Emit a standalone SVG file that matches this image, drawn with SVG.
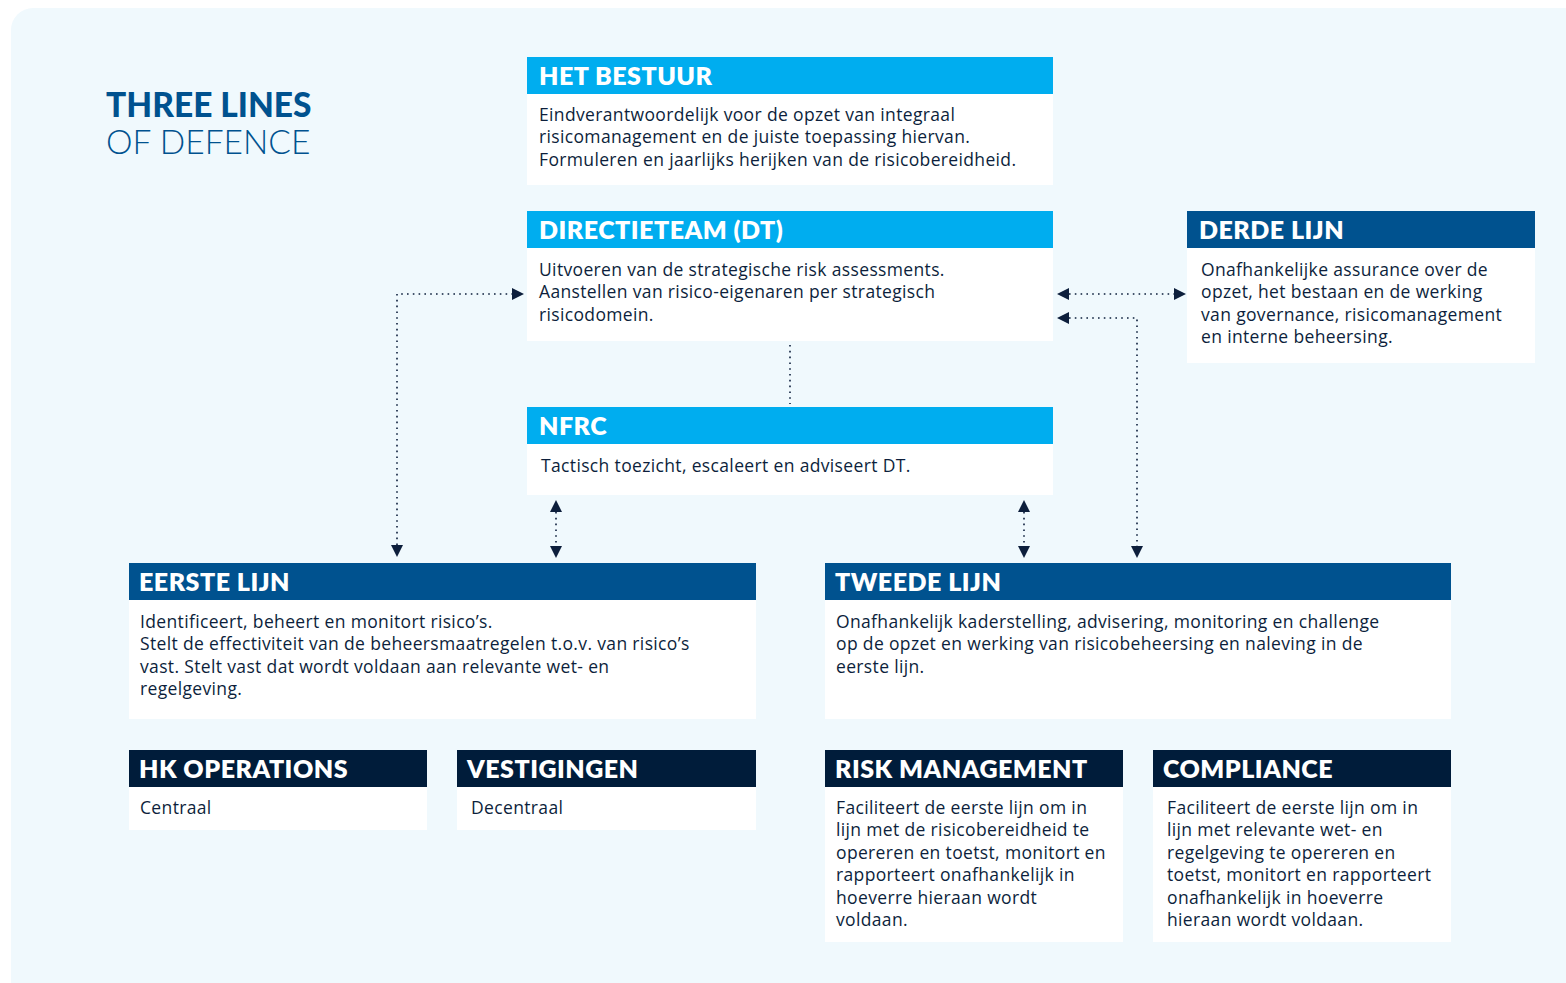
<svg xmlns="http://www.w3.org/2000/svg" width="1566" height="983" viewBox="0 0 1566 983">
<defs>
<style>
.bg{fill:#f0f9fd}
.body{fill:#ffffff}
.hc{fill:#00adef}
.hb{fill:#00528f}
.hn{fill:#001c3a}
.ht{font-family:Lato,"Noto Sans",sans-serif;font-weight:800;font-size:25px;fill:#ffffff;letter-spacing:0.5px}
.bt{font-family:"Open Sans","Noto Sans",sans-serif;font-size:17.5px;letter-spacing:0.35px;fill:#0d1f3c}
.conn{fill:none;stroke:#0d1f3c;stroke-width:1.6;stroke-dasharray:1.6 4.2}
.ttl{font-family:Lato,"Noto Sans",sans-serif;fill:#00528f;font-size:33.5px}
</style>
<marker id="ar" viewBox="0 0 10 10" refX="0" refY="5" markerWidth="12" markerHeight="12" markerUnits="userSpaceOnUse" orient="auto-start-reverse">
<path d="M0,0 L10,5 L0,10 Z" fill="#0d1f3c"/>
</marker>
</defs>
<rect class="bg" x="11" y="8" width="1575" height="995" rx="22"/>
<g id="title">
<text class="ttl" x="106" y="117" font-weight="900">THREE LINES</text>
<text class="ttl" x="106" y="154" font-weight="300">OF DEFENCE</text>
</g>
<g id="connectors">
<path class="conn" d="M397,545 V294 H512" marker-start="url(#ar)" marker-end="url(#ar)"/>
<path class="conn" d="M556,512 V546" marker-start="url(#ar)" marker-end="url(#ar)"/>
<path class="conn" d="M1024,512 V546" marker-start="url(#ar)" marker-end="url(#ar)"/>
<path class="conn" d="M1069,294 H1174" marker-start="url(#ar)" marker-end="url(#ar)"/>
<path class="conn" d="M1069,318 H1137 V546" marker-start="url(#ar)" marker-end="url(#ar)"/>
<path class="conn" d="M790,345 V404"/>
</g>
<g id="het-bestuur">
<rect class="body" x="527" y="57" width="526" height="128"/>
<rect class="hc" x="527" y="57" width="526" height="37"/>
<text class="ht" x="539" y="85">HET BESTUUR</text>
<text class="bt" x="539" y="121">Eindverantwoordelijk voor de opzet van integraal</text>
<text class="bt" x="539" y="143">risicomanagement en de juiste toepassing hiervan.</text>
<text class="bt" x="539" y="166">Formuleren en jaarlijks herijken van de risicobereidheid.</text>
</g>
<g id="directieteam">
<rect class="body" x="527" y="211" width="526" height="130"/>
<rect class="hc" x="527" y="211" width="526" height="37"/>
<text class="ht" x="539" y="239">DIRECTIETEAM (DT)</text>
<text class="bt" x="539" y="276">Uitvoeren van de strategische risk assessments.</text>
<text class="bt" x="539" y="298">Aanstellen van risico-eigenaren per strategisch</text>
<text class="bt" x="539" y="321">risicodomein.</text>
</g>
<g id="nfrc">
<rect class="body" x="527" y="407" width="526" height="88"/>
<rect class="hc" x="527" y="407" width="526" height="37"/>
<text class="ht" x="539" y="435">NFRC</text>
<text class="bt" x="541" y="472">Tactisch toezicht, escaleert en adviseert DT.</text>
</g>
<g id="derde-lijn">
<rect class="body" x="1187" y="211" width="348" height="152"/>
<rect class="hb" x="1187" y="211" width="348" height="37"/>
<text class="ht" x="1199" y="239">DERDE LIJN</text>
<text class="bt" x="1201" y="276">Onafhankelijke assurance over de</text>
<text class="bt" x="1201" y="298">opzet, het bestaan en de werking</text>
<text class="bt" x="1201" y="321">van governance, risicomanagement</text>
<text class="bt" x="1201" y="343">en interne beheersing.</text>
</g>
<g id="eerste-lijn">
<rect class="body" x="129" y="563" width="627" height="156"/>
<rect class="hb" x="129" y="563" width="627" height="37"/>
<text class="ht" x="139" y="591">EERSTE LIJN</text>
<text class="bt" x="140" y="628">Identificeert, beheert en monitort risico’s.</text>
<text class="bt" x="140" y="650">Stelt de effectiviteit van de beheersmaatregelen t.o.v. van risico’s</text>
<text class="bt" x="140" y="673">vast. Stelt vast dat wordt voldaan aan relevante wet- en</text>
<text class="bt" x="140" y="695">regelgeving.</text>
</g>
<g id="tweede-lijn">
<rect class="body" x="825" y="563" width="626" height="156"/>
<rect class="hb" x="825" y="563" width="626" height="37"/>
<text class="ht" x="835" y="591">TWEEDE LIJN</text>
<text class="bt" x="836" y="628">Onafhankelijk kaderstelling, advisering, monitoring en challenge</text>
<text class="bt" x="836" y="650">op de opzet en werking van risicobeheersing en naleving in de</text>
<text class="bt" x="836" y="673">eerste lijn.</text>
</g>
<g id="hk-operations">
<rect class="body" x="129" y="750" width="298" height="80"/>
<rect class="hn" x="129" y="750" width="298" height="37"/>
<text class="ht" x="139" y="778">HK OPERATIONS</text>
<text class="bt" x="140" y="814">Centraal</text>
</g>
<g id="vestigingen">
<rect class="body" x="457" y="750" width="299" height="80"/>
<rect class="hn" x="457" y="750" width="299" height="37"/>
<text class="ht" x="467" y="778">VESTIGINGEN</text>
<text class="bt" x="471" y="814">Decentraal</text>
</g>
<g id="risk-management">
<rect class="body" x="825" y="750" width="298" height="192"/>
<rect class="hn" x="825" y="750" width="298" height="37"/>
<text class="ht" x="835" y="778">RISK MANAGEMENT</text>
<text class="bt" x="836" y="814">Faciliteert de eerste lijn om in</text>
<text class="bt" x="836" y="836">lijn met de risicobereidheid te</text>
<text class="bt" x="836" y="859">opereren en toetst, monitort en</text>
<text class="bt" x="836" y="881">rapporteert onafhankelijk  in</text>
<text class="bt" x="836" y="904">hoeverre hieraan wordt</text>
<text class="bt" x="836" y="926">voldaan.</text>
</g>
<g id="compliance">
<rect class="body" x="1153" y="750" width="298" height="192"/>
<rect class="hn" x="1153" y="750" width="298" height="37"/>
<text class="ht" x="1163" y="778">COMPLIANCE</text>
<text class="bt" x="1167" y="814">Faciliteert de eerste lijn om in</text>
<text class="bt" x="1167" y="836">lijn met relevante wet- en</text>
<text class="bt" x="1167" y="859">regelgeving te opereren en</text>
<text class="bt" x="1167" y="881">toetst, monitort en rapporteert</text>
<text class="bt" x="1167" y="904">onafhankelijk in hoeverre</text>
<text class="bt" x="1167" y="926">hieraan wordt voldaan.</text>
</g>
</svg>
